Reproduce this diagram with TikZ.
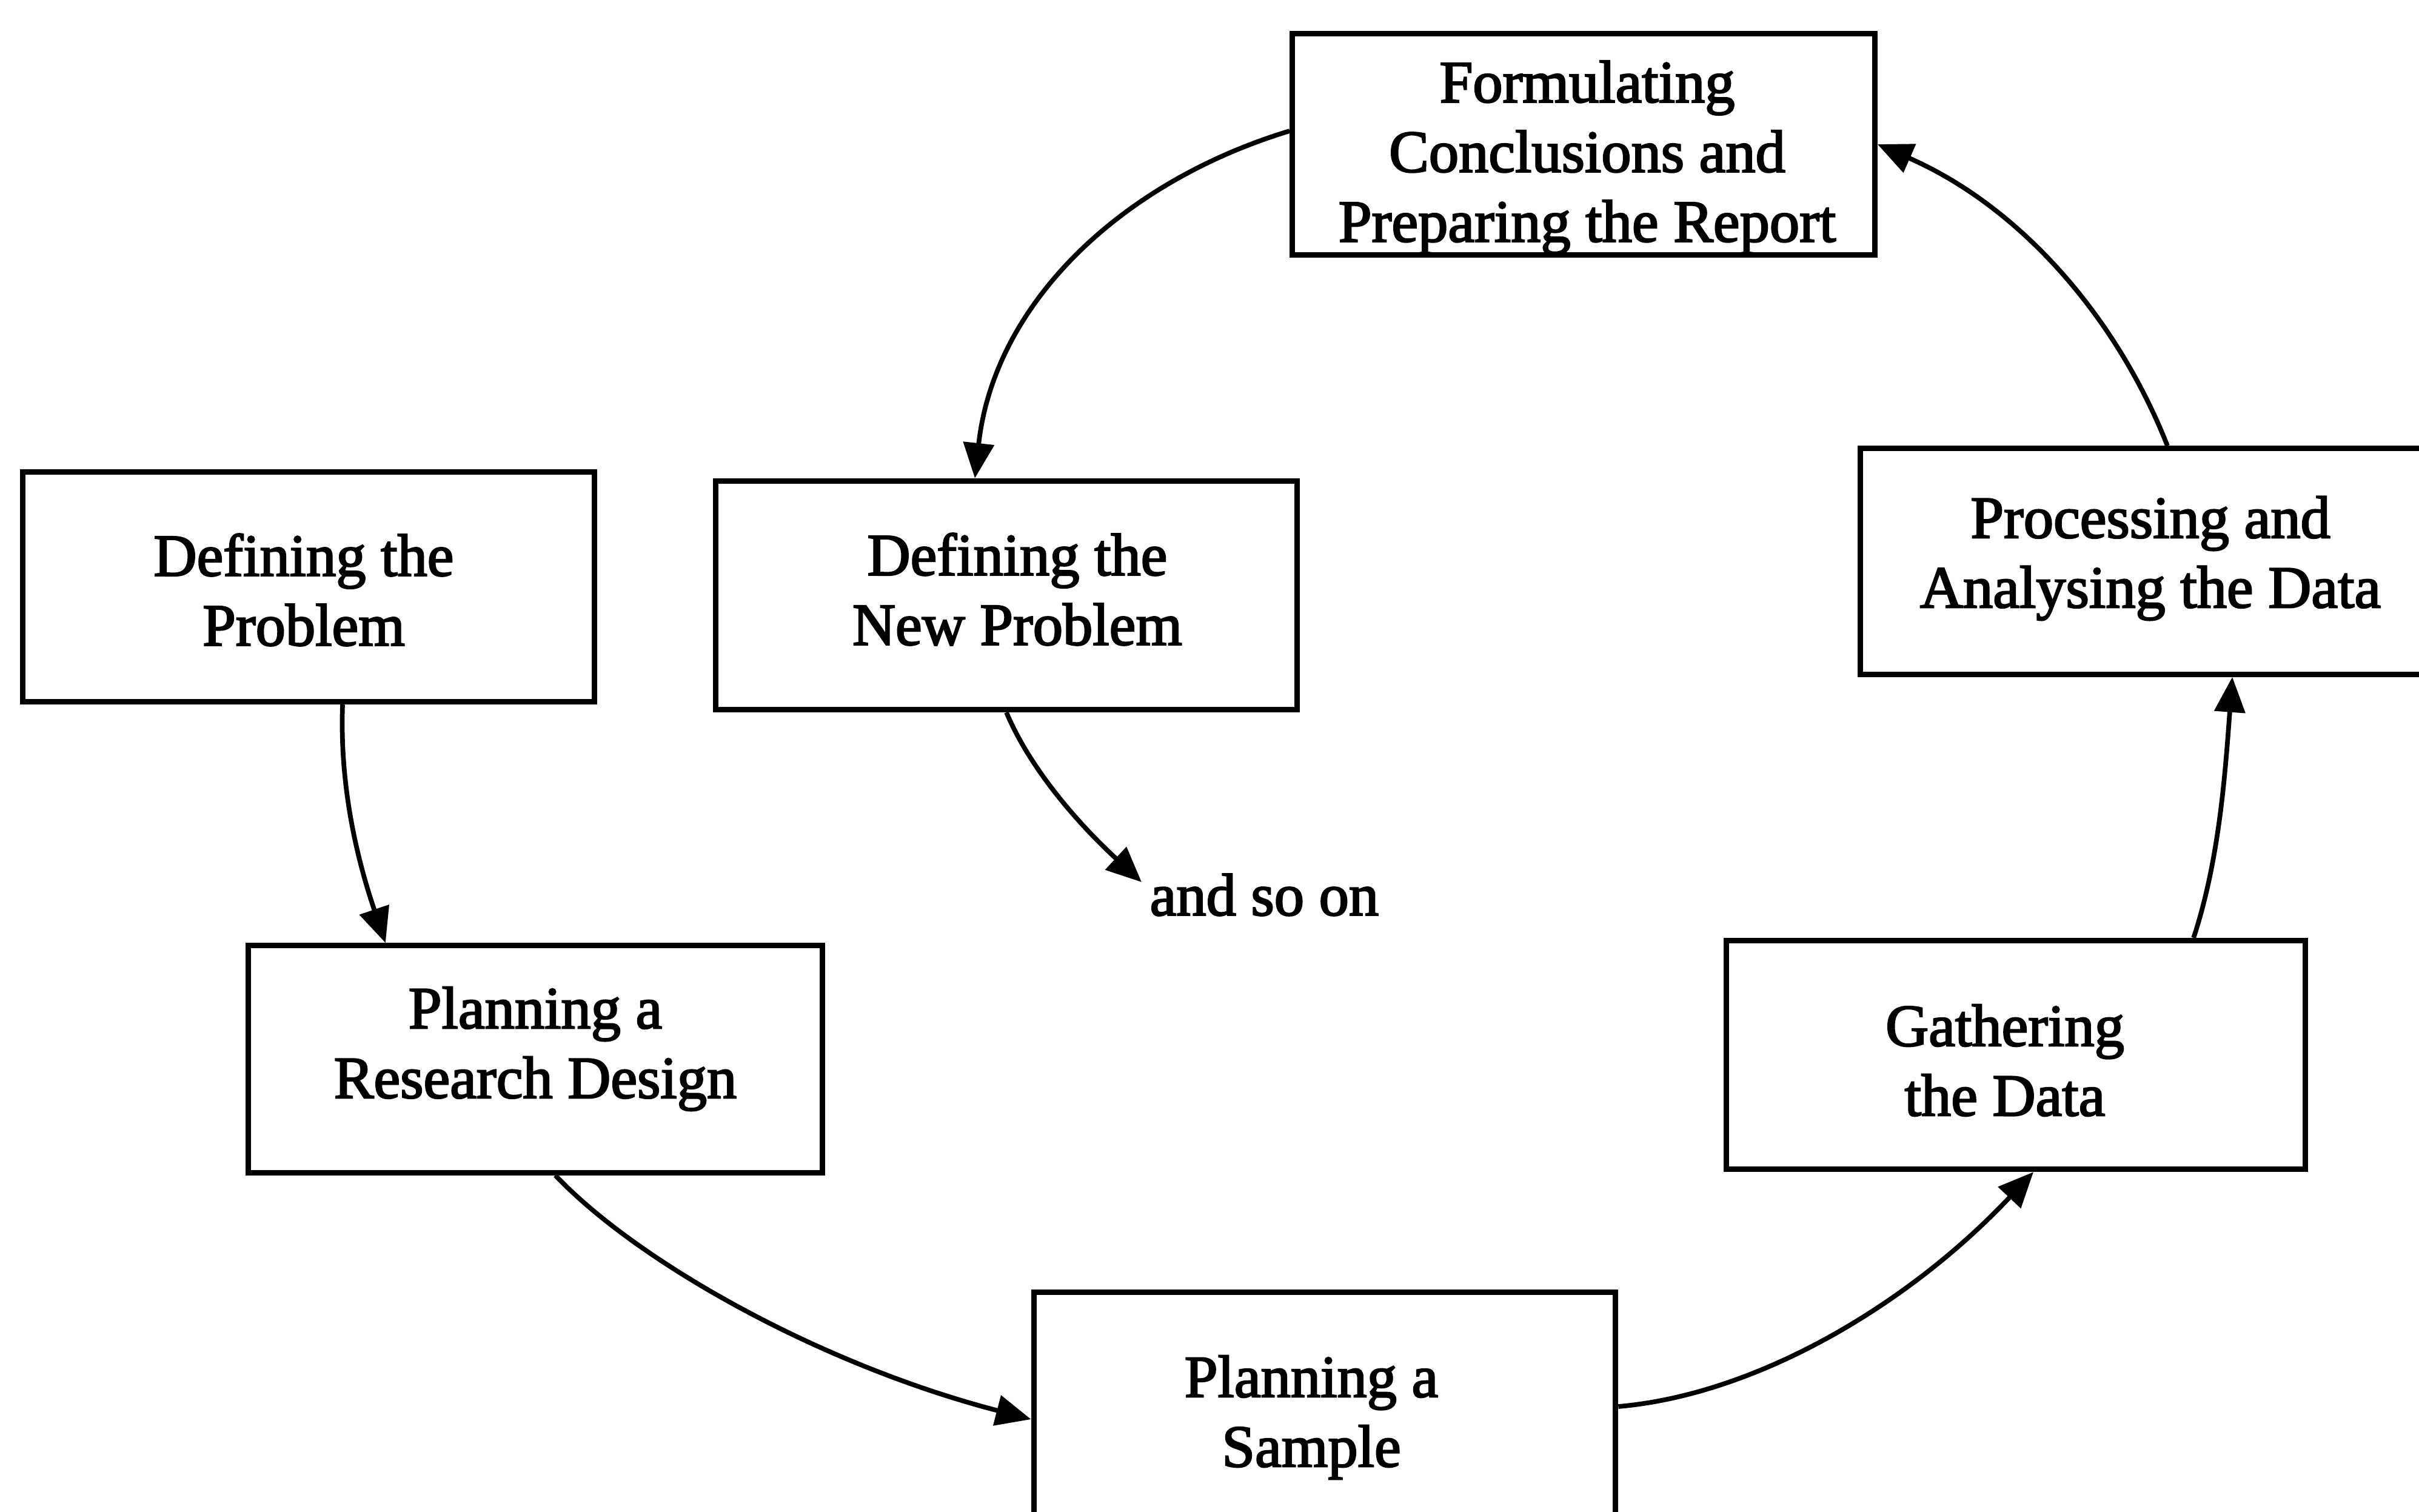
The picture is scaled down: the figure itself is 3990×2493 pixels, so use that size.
\documentclass[tikz,border=0pt]{standalone}
\usepackage{fontspec}
\setmainfont{Liberation Serif}
\newfontfamily\scanfont{Liberation Serif}[FakeBold=2.5]
\usetikzlibrary{arrows.meta}

\tikzset{
  stage/.style={draw, line width=2.6pt, fill=white,
    minimum width=9.56cm, minimum height=3.76cm, inner sep=0pt},
  caption/.style={align=center, inner sep=0pt,
    font=\fontsize{28}{32.7}\selectfont\scanfont},
  flow/.style={line width=2.2pt,
    -{Triangle[length=0.58cm, width=0.5cm]}},
  note/.style={font=\fontsize{28}{32.7}\selectfont\scanfont, inner sep=0pt}
}

\begin{document}
\begin{tikzpicture}[x=0.01cm, y=-0.01cm]
  \useasboundingbox[fill=white] (0,0) rectangle (3990,2493);

  % boxes of the research process
  \node[stage, minimum width=9.60cm, minimum height=3.64cm] (form) at (2612,238) {};
  \node[stage, minimum width=9.42cm, minimum height=3.79cm] (defp) at (509,968) {};
  \node[stage, minimum width=9.59cm, minimum height=3.77cm] (np) at (1660,982) {};
  \node[stage, minimum height=3.72cm] (proc) at (3547,926) {};
  \node[stage, minimum width=9.46cm, minimum height=3.74cm] (rd) at (883,1747) {};
  \node[stage, minimum width=9.55cm, minimum height=3.77cm] (gath) at (3325,1740) {};
  \node[stage, minimum width=9.59cm, minimum height=3.77cm] (samp) at (2185,2320) {};

  % their captions
  \node[caption] (formt) at (2618,260) {Formulating\\Conclusions and\\Preparing the Report};
  \node[caption] (defpt) at (501,973) {Defining the\\Problem};
  \node[caption] (npt) at (1678,972) {Defining the\\New Problem};
  \node[caption] (proct) at (3547,921) {Processing and\\Analysing the Data};
  \node[caption] (rdt) at (883,1730) {Planning a\\Research Design};
  \node[caption] (gatht) at (3307,1749) {Gathering\\the Data};
  \node[caption] (sampt) at (2163,2338) {Planning a\\Sample};

  % open end of the cycle
  \node[note, anchor=west] (more) at (1896,1476) {and so on};
  \coordinate (moretip) at (1883,1455);

  % connectors
  \draw[flow] ([yshift=0.22cm]form.west)
    .. controls (1850,300) and (1640,500) .. ([xshift=-0.52cm]np.north);
  \draw[flow] ([xshift=0.28cm]proc.north)
    .. controls (3490,520) and (3330,340) .. (form.east);
  \draw[flow] ([xshift=0.56cm]defp.south)
    .. controls (560,1300) and (590,1420) .. ([xshift=-2.47cm]rd.north);
  \draw[flow] (np.south)
    .. controls (1700,1270) and (1780,1360) .. (moretip);
  \draw[flow] ([xshift=0.33cm]rd.south)
    .. controls (1050,2080) and (1350,2250) .. ([yshift=-0.21cm]samp.west);
  \draw[flow] (samp.east)
    .. controls (2900,2300) and (3150,2150) .. ([xshift=0.29cm]gath.south);
  \draw[flow] ([xshift=2.93cm]gath.north)
    .. controls (3660,1420) and (3670,1280) .. ([xshift=1.35cm]proc.south);
\end{tikzpicture}
\end{document}
